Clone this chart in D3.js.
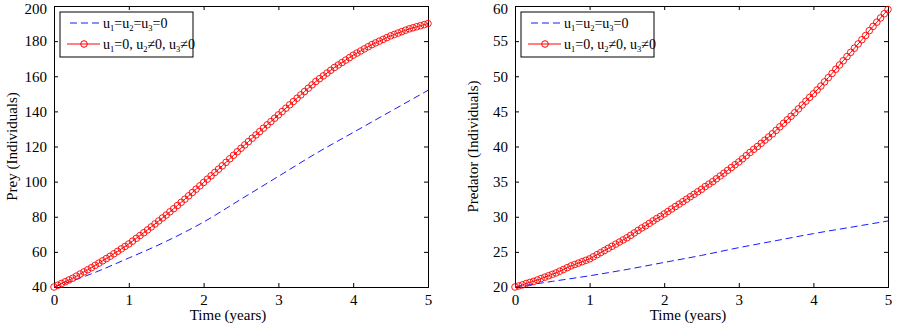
<!DOCTYPE html>
<html>
<head>
<meta charset="utf-8">
<script src="https://cdn.jsdelivr.net/npm/d3@7"></script>
<style>
  html, body { margin: 0; padding: 0; background: #fff; }
  svg { display: block; font-family: "Liberation Serif", "Times New Roman", serif; }
</style>
</head>
<body>
<div id="chart"></div>
<script>
// time grids (years)
const timeFine = d3.range(0, 101).map(i => i * 0.05);   // controlled case, step 0.05
const timeCoarse = d3.range(0, 11).map(i => i * 0.5);   // uncontrolled case, step 0.5

// prey, no control (u1=u2=u3=0)
const preyNoCtrl = [40, 47.5, 56.5, 66, 77, 90, 103, 116, 128, 140, 152];
// prey, u1=0, u2!=0, u3!=0
const preyCtrl = [
  40, 41, 42, 43, 44, 45, 46.2, 47.4, 48.6, 49.8,
  51, 52.3, 53.6, 54.9, 56.2, 57.5, 58.9, 60.3, 61.7, 63.1,
  64.5, 66.1, 67.7, 69.3, 70.9, 72.5, 74.2, 75.9, 77.6, 79.3,
  81, 82.8, 84.6, 86.4, 88.2, 90, 91.9, 93.8, 95.7, 97.6,
  99.5, 101.4, 103.3, 105.2, 107.1, 109, 111, 113, 115, 117,
  119, 120.9, 122.8, 124.7, 126.6, 128.5, 130.4, 132.3, 134.2, 136.1,
  138, 139.9, 141.8, 143.7, 145.6, 147.5, 149.4, 151.3, 153.2, 155.1,
  157, 158.6, 160.2, 161.8, 163.4, 165, 166.4, 167.8, 169.2, 170.6,
  172, 173.2, 174.4, 175.6, 176.8, 178, 179, 180, 181, 182,
  183, 183.8, 184.6, 185.4, 186.2, 187, 187.6, 188.2, 188.8, 189.4,
  190
];

// predator, no control
const predNoCtrl = [20, 20.8, 21.6, 22.5, 23.5, 24.5, 25.6, 26.6, 27.6, 28.5, 29.4];
// predator, u1=0, u2!=0, u3!=0
const predCtrl = [
  20, 20.15, 20.3, 20.5, 20.65, 20.8, 21, 21.2, 21.4, 21.6,
  21.8, 22, 22.25, 22.5, 22.75, 23, 23.2, 23.4, 23.6, 23.8,
  24, 24.3, 24.6, 24.9, 25.2, 25.5, 25.8, 26.1, 26.4, 26.7,
  27, 27.35, 27.7, 28.05, 28.4, 28.7, 29.05, 29.4, 29.75, 30.05,
  30.4, 30.75, 31.1, 31.45, 31.8, 32.15, 32.5, 32.85, 33.2, 33.55,
  33.9, 34.3, 34.65, 35, 35.4, 35.8, 36.2, 36.6, 37, 37.4,
  37.8, 38.25, 38.7, 39.15, 39.6, 40, 40.45, 40.9, 41.35, 41.8,
  42.3, 42.8, 43.3, 43.8, 44.3, 44.8, 45.35, 45.9, 46.45, 47,
  47.5, 48.05, 48.6, 49.2, 49.8, 50.4, 51, 51.6, 52.2, 52.8,
  53.4, 54, 54.6, 55.2, 55.8, 56.5, 57.1, 57.7, 58.3, 58.9,
  59.5
];

const xTicks = [0, 1, 2, 3, 4, 5];
const preyTicks = [40, 60, 80, 100, 120, 140, 160, 180, 200];
const predTicks = [20, 25, 30, 35, 40, 45, 50, 55, 60];

// legend labels: [text, isSubscript]
const legendNoCtrl = [['u', 0], ['1', 1], ['=u', 0], ['2', 1], ['=u', 0], ['3', 1], ['=0', 0]];
const legendCtrl = [['u', 0], ['1', 1], ['=0, u', 0], ['2', 1], ['\u22600, u', 0], ['3', 1], ['\u22600', 0]];

const W = 902, H = 326;
const svg = d3.select('#chart').append('svg')
  .attr('width', W)
  .attr('height', H);

function drawPanel(cfg) {
  const { left, right, top, bottom, yDomain, yTicks, noCtrl, ctrl, yLabel, xLabelX } = cfg;

  const x = d3.scaleLinear().domain([0, 5]).range([left, right]);
  const y = d3.scaleLinear().domain(yDomain).range([bottom, top]);

  const g = svg.append('g');

  // plot background
  g.append('rect')
    .attr('x', left).attr('y', top)
    .attr('width', right - left).attr('height', bottom - top)
    .attr('fill', '#fff');

  // axes (ticks inward on all four sides)
  const tickLen = 4;
  const axB = g.append('g').attr('transform', `translate(0,${bottom})`)
    .call(d3.axisBottom(x).tickValues(xTicks).tickSize(-tickLen).tickPadding(7).tickFormat(d3.format('d')));
  const axT = g.append('g').attr('transform', `translate(0,${top})`)
    .call(d3.axisTop(x).tickValues(xTicks).tickSize(-tickLen).tickFormat(''));
  const axL = g.append('g').attr('transform', `translate(${left},0)`)
    .call(d3.axisLeft(y).tickValues(yTicks).tickSize(-tickLen).tickPadding(7).tickFormat(d3.format('d')));
  const axR = g.append('g').attr('transform', `translate(${right},0)`)
    .call(d3.axisRight(y).tickValues(yTicks).tickSize(-tickLen).tickFormat(''));

  [axB, axT, axL, axR].forEach(a => {
    a.select('.domain').attr('stroke', '#000').attr('stroke-width', 1);
    a.selectAll('.tick line').attr('stroke', '#000').attr('stroke-width', 1);
    a.selectAll('.tick text')
      .attr('fill', '#000')
      .style('font-family', '"Liberation Serif", serif')
      .style('font-size', '15px');
  });
  // keep the top label inside the picture
  axL.selectAll('.tick text').filter(d => d === yDomain[1]).attr('dy', '0.5em');

  // blue dashed line, no control
  const lineNo = d3.line()
    .x((d, i) => x(timeCoarse[i]))
    .y(d => y(d))
    .curve(d3.curveMonotoneX);
  g.append('path')
    .datum(noCtrl)
    .attr('d', lineNo)
    .attr('fill', 'none')
    .attr('stroke', '#1a1aff')
    .attr('stroke-width', 1)
    .attr('stroke-dasharray', '7,4');

  // red line with circle markers, controlled
  const lineCtrl = d3.line()
    .x((d, i) => x(timeFine[i]))
    .y(d => y(d));
  g.append('path')
    .datum(ctrl)
    .attr('d', lineCtrl)
    .attr('fill', 'none')
    .attr('stroke', '#ff0000')
    .attr('stroke-width', 1);
  g.append('g').selectAll('circle')
    .data(ctrl)
    .join('circle')
    .attr('cx', (d, i) => x(timeFine[i]))
    .attr('cy', d => y(d))
    .attr('r', 3.3)
    .attr('fill', 'none')
    .attr('stroke', '#ff0000')
    .attr('stroke-width', 0.9);

  // axis labels
  g.append('text')
    .attr('x', xLabelX)
    .attr('y', 320)
    .attr('text-anchor', 'middle')
    .style('font-size', '15px')
    .text('Time (years)');

  g.append('text')
    .attr('transform', `translate(${left - 37},${(top + bottom) / 2}) rotate(-90)`)
    .attr('text-anchor', 'middle')
    .style('font-size', '15px')
    .text(yLabel);

  // legend
  const lx = left + 6, ly = 12;
  g.append('rect')
    .attr('x', lx).attr('y', ly)
    .attr('width', 133).attr('height', 45)
    .attr('fill', '#fff')
    .attr('stroke', '#000')
    .attr('stroke-width', 1);

  const row1 = ly + 11, row2 = ly + 32;
  g.append('line')
    .attr('x1', lx + 10).attr('x2', lx + 40)
    .attr('y1', row1).attr('y2', row1)
    .attr('stroke', '#1a1aff').attr('stroke-dasharray', '7,4');
  g.append('line')
    .attr('x1', lx + 7).attr('x2', lx + 40)
    .attr('y1', row2).attr('y2', row2)
    .attr('stroke', '#ff0000');
  g.append('circle')
    .attr('cx', lx + 24).attr('cy', row2).attr('r', 3.3)
    .attr('fill', 'none').attr('stroke', '#ff0000');

  function legendText(parts, yy) {
    const t = g.append('text')
      .attr('x', lx + 43)
      .attr('y', yy + 4.5)
      .style('font-size', '14px');
    let shifted = false;
    parts.forEach(([s, sub]) => {
      const ts = t.append('tspan').text(s);
      if (sub && !shifted) { ts.attr('dy', 3).style('font-size', '8.5px'); shifted = true; }
      else if (!sub && shifted) { ts.attr('dy', -3); shifted = false; }
    });
  }
  legendText(legendNoCtrl, row1);
  legendText(legendCtrl, row2);
}

drawPanel({
  left: 54, right: 428, top: 6, bottom: 287,
  yDomain: [40, 200], yTicks: preyTicks,
  noCtrl: preyNoCtrl, ctrl: preyCtrl,
  yLabel: 'Prey (Individuals)', xLabelX: 228
});

drawPanel({
  left: 515, right: 888, top: 6, bottom: 287,
  yDomain: [20, 60], yTicks: predTicks,
  noCtrl: predNoCtrl, ctrl: predCtrl,
  yLabel: 'Predator (Individuals)', xLabelX: 688
});
</script>
</body>
</html>
